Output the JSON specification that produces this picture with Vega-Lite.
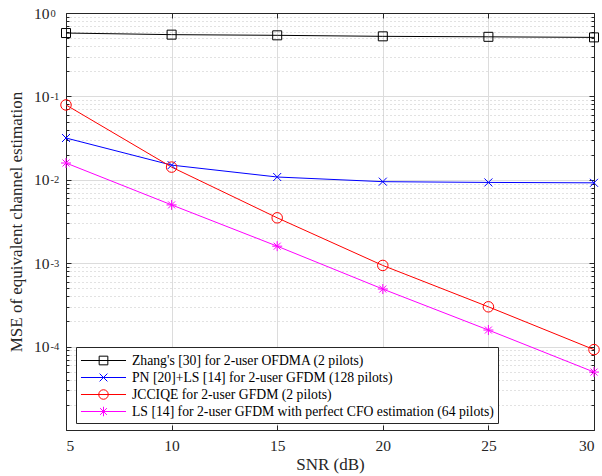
{
  "$schema": "https://vega.github.io/schema/vega-lite/v6.json",
  "width": 528,
  "height": 417,
  "autosize": "none",
  "padding": {"left": 66, "top": 13, "right": 8, "bottom": 46},
  "background": "white",
  "config": {
    "view": {"stroke": null},
    "axis": {
      "domainColor": "#262626",
      "tickColor": "#262626",
      "labelColor": "#262626",
      "titleColor": "#262626",
      "labelFont": "Liberation Serif",
      "titleFont": "Liberation Serif",
      "labelFontSize": 15.5,
      "titleFontSize": 17,
      "titleFontWeight": "normal",
      "domainWidth": 1,
      "tickWidth": 1
    }
  },
  "data": {
    "values": [
      {"snr": 5, "mse": 0.575, "series": "Zhang's [30] for 2-user OFDMA (2 pilots)"},
      {"snr": 10, "mse": 0.55, "series": "Zhang's [30] for 2-user OFDMA (2 pilots)"},
      {"snr": 15, "mse": 0.54, "series": "Zhang's [30] for 2-user OFDMA (2 pilots)"},
      {"snr": 20, "mse": 0.525, "series": "Zhang's [30] for 2-user OFDMA (2 pilots)"},
      {"snr": 25, "mse": 0.518, "series": "Zhang's [30] for 2-user OFDMA (2 pilots)"},
      {"snr": 30, "mse": 0.51, "series": "Zhang's [30] for 2-user OFDMA (2 pilots)"},
      {"snr": 5, "mse": 0.0317, "series": "PN [20]+LS [14] for 2-user GFDM (128 pilots)"},
      {"snr": 10, "mse": 0.015, "series": "PN [20]+LS [14] for 2-user GFDM (128 pilots)"},
      {"snr": 15, "mse": 0.0108, "series": "PN [20]+LS [14] for 2-user GFDM (128 pilots)"},
      {"snr": 20, "mse": 0.0095, "series": "PN [20]+LS [14] for 2-user GFDM (128 pilots)"},
      {"snr": 25, "mse": 0.0093, "series": "PN [20]+LS [14] for 2-user GFDM (128 pilots)"},
      {"snr": 30, "mse": 0.0092, "series": "PN [20]+LS [14] for 2-user GFDM (128 pilots)"},
      {"snr": 5, "mse": 0.079, "series": "JCCIQE for 2-user GFDM (2 pilots)"},
      {"snr": 10, "mse": 0.0142, "series": "JCCIQE for 2-user GFDM (2 pilots)"},
      {"snr": 15, "mse": 0.0035, "series": "JCCIQE for 2-user GFDM (2 pilots)"},
      {"snr": 20, "mse": 0.00094, "series": "JCCIQE for 2-user GFDM (2 pilots)"},
      {"snr": 25, "mse": 0.0003, "series": "JCCIQE for 2-user GFDM (2 pilots)"},
      {"snr": 30, "mse": 0.000092, "series": "JCCIQE for 2-user GFDM (2 pilots)"},
      {"snr": 5, "mse": 0.0159, "series": "LS [14] for 2-user GFDM with perfect CFO estimation (64 pilots)"},
      {"snr": 10, "mse": 0.005, "series": "LS [14] for 2-user GFDM with perfect CFO estimation (64 pilots)"},
      {"snr": 15, "mse": 0.0016, "series": "LS [14] for 2-user GFDM with perfect CFO estimation (64 pilots)"},
      {"snr": 20, "mse": 0.00049, "series": "LS [14] for 2-user GFDM with perfect CFO estimation (64 pilots)"},
      {"snr": 25, "mse": 0.000158, "series": "LS [14] for 2-user GFDM with perfect CFO estimation (64 pilots)"},
      {"snr": 30, "mse": 0.0000495, "series": "LS [14] for 2-user GFDM with perfect CFO estimation (64 pilots)"}
    ]
  },
  "layer": [
    {
      "mark": {"type": "line", "opacity": 0},
      "encoding": {
        "x": {"field": "snr", "type": "quantitative", "scale": {"domain": [5, 30], "nice": false, "zero": false}, "axis": {"orient": "bottom", "values": [5, 10, 15, 20, 25, 30], "labels": false, "grid": false, "tickSize": -5, "domain": false, "title": null}},
        "y": {"field": "mse", "type": "quantitative", "scale": {"type": "log", "domain": [0.00001, 1], "nice": false}, "axis": {"orient": "left", "values": [2e-5,3e-5,4e-5,5e-5,6e-5,7e-5,8e-5,9e-5,2e-4,3e-4,4e-4,5e-4,6e-4,7e-4,8e-4,9e-4,2e-3,3e-3,4e-3,5e-3,6e-3,7e-3,8e-3,9e-3,0.02,0.03,0.04,0.05,0.06,0.07,0.08,0.09,0.2,0.3,0.4,0.5,0.6,0.7,0.8,0.9], "labels": false, "grid": true, "gridColor": "#c4c4c4", "gridDash": [1, 3], "tickSize": -3, "domain": false, "title": null}},
        "detail": {"field": "series", "type": "nominal"}
      }
    },
    {
      "mark": {"type": "line", "opacity": 0},
      "encoding": {
        "x": {"field": "snr", "type": "quantitative", "axis": null},
        "y": {"field": "mse", "type": "quantitative", "axis": {"orient": "right", "values": [2e-5,3e-5,4e-5,5e-5,6e-5,7e-5,8e-5,9e-5,2e-4,3e-4,4e-4,5e-4,6e-4,7e-4,8e-4,9e-4,2e-3,3e-3,4e-3,5e-3,6e-3,7e-3,8e-3,9e-3,0.02,0.03,0.04,0.05,0.06,0.07,0.08,0.09,0.2,0.3,0.4,0.5,0.6,0.7,0.8,0.9], "labels": false, "grid": false, "tickSize": -3, "domain": false, "title": null}},
        "detail": {"field": "series", "type": "nominal"}
      }
    },
    {
      "mark": {"type": "line", "opacity": 0},
      "encoding": {
        "x": {"field": "snr", "type": "quantitative", "axis": null},
        "y": {"field": "mse", "type": "quantitative", "axis": {"orient": "left", "values": [0.00001, 0.0001, 0.001, 0.01, 0.1, 1], "labels": false, "grid": false, "tickSize": -5, "domain": false, "title": null}},
        "detail": {"field": "series", "type": "nominal"}
      }
    },
    {
      "mark": {"type": "line", "opacity": 0},
      "encoding": {
        "x": {"field": "snr", "type": "quantitative", "axis": null},
        "y": {"field": "mse", "type": "quantitative", "axis": {"orient": "left", "values": [0.00001, 0.0001, 0.001, 0.01, 0.1, 1], "labelExpr": "datum.value > 0.5 ? '0' : datum.value > 0.05 ? '-1' : datum.value > 0.005 ? '-2' : datum.value > 0.0005 ? '-3' : datum.value > 0.00005 ? '-4' : ''", "labelAlign": "left", "labelPadding": 16, "labelFontSize": 10.5, "labelDy": -3.5, "ticks": false, "grid": false, "domain": false, "title": null}},
        "detail": {"field": "series", "type": "nominal"}
      }
    },
    {
      "mark": {"type": "line", "strokeWidth": 1},
      "encoding": {
        "x": {"field": "snr", "type": "quantitative", "axis": {"orient": "bottom", "values": [5, 10, 15, 20, 25, 30], "title": "SNR (dB)", "grid": true, "gridColor": "#dcdcdc", "tickSize": 0, "labelPadding": 8, "titlePadding": 3}},
        "y": {"field": "mse", "type": "quantitative", "axis": {"orient": "left", "values": [0.00001, 0.0001, 0.001, 0.01, 0.1, 1], "labelExpr": "datum.value > 0.00005 ? '10' : ''", "labelPadding": 17, "labelDy": 2.5, "title": "MSE of equivalent channel estimation", "grid": true, "gridColor": "#dcdcdc", "tickSize": 0, "titlePadding": 8}},
        "color": {
          "field": "series", "type": "nominal",
          "scale": {"domain": ["Zhang's [30] for 2-user OFDMA (2 pilots)", "PN [20]+LS [14] for 2-user GFDM (128 pilots)", "JCCIQE for 2-user GFDM (2 pilots)", "LS [14] for 2-user GFDM with perfect CFO estimation (64 pilots)"], "range": ["#000000", "#0000ff", "#ff0000", "#ff00ff"]},
          "legend": {
            "orient": "none", "legendX": 10, "legendY": 334, "title": null,
            "symbolSize": 300, "symbolOffset": 14, "labelOffset": 19,
            "labelFont": "Liberation Serif", "labelFontSize": 13.7, "labelColor": "#000000", "labelLimit": 0,
            "padding": 4, "rowPadding": 0, "strokeColor": "#262626", "fillColor": "white",
            "symbolStrokeWidth": 1,
            "encode": {"symbols": {"update": {
              "fill": {"value": "transparent"},
              "shape": {"signal": "substring(datum.value,0,1) === 'Z' ? 'M-2.6,0H2.6M-0.5,-0.5H0.5V0.5H-0.5Z' : substring(datum.value,0,1) === 'P' ? 'M-2.6,0H2.6M-0.45,-0.45L0.45,0.45M-0.45,0.45L0.45,-0.45' : substring(datum.value,0,1) === 'J' ? 'M-2.6,0H2.6M0.55,0A0.55,0.55,0,1,1,-0.55,0A0.55,0.55,0,1,1,0.55,0' : 'M-2.6,0H2.6M0,-0.55V0.55M-0.55,0H0.55M-0.39,-0.39L0.39,0.39M-0.39,0.39L0.39,-0.39'"}
            }}}
          }
        }
      }
    },
    {
      "transform": [{"filter": {"field": "series", "equal": "Zhang's [30] for 2-user OFDMA (2 pilots)"}}],
      "mark": {"type": "point", "shape": "M-0.9,-0.9H0.9V0.9H-0.9Z", "filled": false, "size": 100, "strokeWidth": 1, "stroke": "#000000", "opacity": 1},
      "encoding": {
        "x": {"field": "snr", "type": "quantitative", "axis": {"orient": "top", "values": [5, 10, 15, 20, 25, 30], "labels": false, "grid": false, "tickSize": -5, "title": null}},
        "y": {"field": "mse", "type": "quantitative", "axis": {"orient": "right", "values": [0.00001, 0.0001, 0.001, 0.01, 0.1, 1], "labels": false, "grid": false, "tickSize": -5, "title": null}}
      }
    },
    {
      "transform": [{"filter": {"field": "series", "equal": "PN [20]+LS [14] for 2-user GFDM (128 pilots)"}}],
      "mark": {"type": "point", "shape": "M-0.8,-0.8L0.8,0.8M-0.8,0.8L0.8,-0.8", "filled": false, "size": 100, "strokeWidth": 1, "stroke": "#0000ff", "opacity": 1},
      "encoding": {
        "x": {"field": "snr", "type": "quantitative", "axis": null},
        "y": {"field": "mse", "type": "quantitative", "axis": null}
      }
    },
    {
      "transform": [{"filter": {"field": "series", "equal": "JCCIQE for 2-user GFDM (2 pilots)"}}],
      "mark": {"type": "point", "shape": "circle", "filled": false, "size": 110, "strokeWidth": 1, "stroke": "#ff0000", "opacity": 1},
      "encoding": {
        "x": {"field": "snr", "type": "quantitative", "axis": null},
        "y": {"field": "mse", "type": "quantitative", "axis": null}
      }
    },
    {
      "transform": [{"filter": {"field": "series", "equal": "LS [14] for 2-user GFDM with perfect CFO estimation (64 pilots)"}}],
      "mark": {"type": "point", "shape": "M0,-1V1M-1,0H1M-0.7,-0.7L0.7,0.7M-0.7,0.7L0.7,-0.7", "filled": false, "size": 100, "strokeWidth": 1, "stroke": "#ff00ff", "opacity": 1},
      "encoding": {
        "x": {"field": "snr", "type": "quantitative", "axis": null},
        "y": {"field": "mse", "type": "quantitative", "axis": null}
      }
    }
  ],
  "resolve": {"axis": {"x": "independent", "y": "independent"}}
}
